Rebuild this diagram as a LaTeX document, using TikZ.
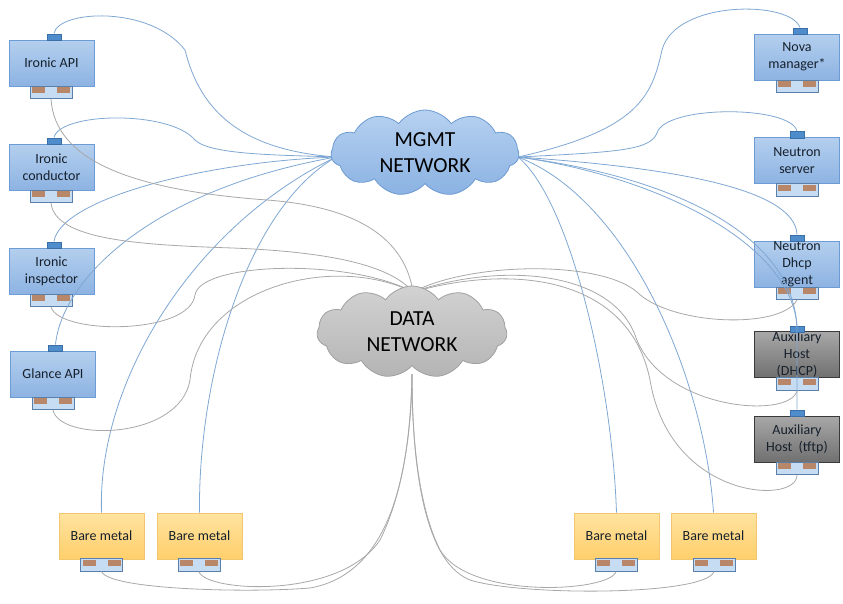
\documentclass[tikz,border=0pt]{standalone}
\usepackage{fontspec}
\setmainfont{Carlito}
\usetikzlibrary{shapes.symbols}
\definecolor{boxtop}{HTML}{B4CFEE}
\definecolor{boxbot}{HTML}{8DB3E2}
\definecolor{boxdraw}{HTML}{6D9BD3}
\definecolor{bmtop}{HTML}{FFE3A0}
\definecolor{bmbot}{HTML}{FFCF6B}
\definecolor{bmdraw}{HTML}{F2C66E}
\definecolor{auxtop}{HTML}{A8A8A8}
\definecolor{auxbot}{HTML}{707070}
\definecolor{auxdraw}{HTML}{3A3A3A}
\definecolor{tabfill}{HTML}{4F8CCB}
\definecolor{tabdraw}{HTML}{3A6FA8}
\definecolor{portfill}{HTML}{C5DCF2}
\definecolor{portdraw}{HTML}{5A7FA8}
\definecolor{brownc}{HTML}{B8876A}
\definecolor{mline}{HTML}{7FA7D3}
\definecolor{dline}{HTML}{A8A8A8}
\definecolor{txt}{HTML}{16202C}
\definecolor{mgtop}{HTML}{B7D1F0}
\definecolor{mgbot}{HTML}{8AB2E2}
\definecolor{mgdraw}{HTML}{6C9AD2}
\definecolor{datop}{HTML}{D2D2D2}
\definecolor{dabot}{HTML}{B4B4B4}
\definecolor{dadraw}{HTML}{A0A0A0}
\pgfdeclarelayer{front}
\pgfsetlayers{main,front}
\tikzset{
  basebox/.style={minimum width=85pt, minimum height=46pt, inner sep=0pt, align=center,
    font=\fontsize{14}{17}\selectfont, text=txt, line width=0.8pt},
  bluebox/.style={basebox, draw=boxdraw, top color=boxtop, bottom color=boxbot},
  auxbox/.style={basebox, draw=auxdraw, top color=auxtop, bottom color=auxbot},
  bmbox/.style={basebox, draw=bmdraw, top color=bmtop, bottom color=bmbot},
  tabn/.style={draw=tabdraw, fill=tabfill, minimum width=14pt, minimum height=6.5pt, inner sep=0pt, line width=0.5pt},
  portn/.style={draw=portdraw, fill=portfill, minimum width=42pt, minimum height=12.5pt, inner sep=0pt, line width=0.7pt,
    path picture={
      \fill[brownc] ([xshift=2pt,yshift=-0.8pt]path picture bounding box.north west) rectangle ++(13pt,-6pt);
      \fill[brownc] ([xshift=-2pt,yshift=-0.8pt]path picture bounding box.north east) rectangle ++(-13pt,-6pt);}},
  mwire/.style={draw=mline, line width=0.8pt},
  dwire/.style={draw=dline, line width=0.8pt},
  cloudn/.style={cloud, cloud puffs=11, cloud puff arc=110, aspect=2.2, inner sep=0pt, align=center,
    font=\fontsize{21.5}{26}\selectfont, text=black, line width=0.8pt},
}
\begin{document}
\begin{tikzpicture}[x=1pt,y=-1pt]
\useasboundingbox (0,0) rectangle (843,603);
% left column
\node[bluebox] (api) at (51.5,63) {Ironic API};
\node[tabn] (apiT) at (54,37) {};
\node[portn] (apiP) at (51,92.5) {};
\node[bluebox] (cond) at (51.5,167) {Ironic\\conductor};
\node[tabn] (condT) at (54,141) {};
\node[portn] (condP) at (51,196.5) {};
\node[bluebox] (insp) at (51.5,271) {Ironic\\inspector};
\node[tabn] (inspT) at (54,245) {};
\node[portn] (inspP) at (51,300.5) {};
\node[bluebox] (glance) at (53,374) {Glance API};
\node[tabn] (glanceT) at (55.5,348) {};
\node[portn] (glanceP) at (53,403.5) {};
% right column
\node[bluebox] (nova) at (797,57) {Nova\\manager*};
\node[tabn] (novaT) at (800,31) {};
\node[portn] (novaP) at (797,86.5) {};
\node[bluebox] (neus) at (797,160.5) {Neutron\\server};
\node[tabn] (neusT) at (797,134.5) {};
\node[portn] (neusP) at (797,190) {};
\node[bluebox] (dhcp) at (797,264) {Neutron\\Dhcp\\agent};
\node[tabn] (dhcpT) at (797,238) {};
\node[portn] (dhcpP) at (797,293.5) {};
\node[auxbox] (auxd) at (797,354.5) {Auxiliary\\Host\\(DHCP)};
\node[tabn] (auxdT) at (797,329) {};
\node[portn] (auxdP) at (797,384) {};
\node[auxbox] (auxt) at (797,439) {Auxiliary\\Host\ \ (tftp)};
\node[tabn] (auxtT) at (797,413) {};
\node[portn] (auxtP) at (797,468.5) {};
% bare metal
\node[bmbox] (bm1) at (101.5,536) {Bare metal};
\node[portn] (bm1P) at (101.5,565) {};
\node[bmbox] (bm2) at (199.5,536) {Bare metal};
\node[portn] (bm2P) at (199,565) {};
\node[bmbox] (bm3) at (616.5,536) {Bare metal};
\node[portn] (bm3P) at (616,565) {};
\node[bmbox] (bm4) at (713.5,536) {Bare metal};
\node[portn] (bm4P) at (714,565) {};
% clouds
\begin{pgfonlayer}{front}
\node[cloudn, draw=mgdraw, top color=mgtop, bottom color=mgbot, minimum width=188pt, minimum height=86pt] (mg) at (425,153) {MGMT\\NETWORK};
\node[cloudn, draw=dadraw, top color=datop, bottom color=dabot, minimum width=190pt, minimum height=92pt] (da) at (412,332) {DATA\\NETWORK};
\end{pgfonlayer}
\coordinate (mL) at (336,157);
\coordinate (mR) at (518,157);
\coordinate (dT) at (413,292);
\coordinate (dB) at (412,374);
% MGMT wires, left
\draw[mwire] (apiT.north) .. controls (58,10) and (150,5) .. (185,50) .. controls (200,110) and (240,150) .. (mL);
\draw[mwire] (condT.north) .. controls (60,112) and (170,110) .. (195,140) .. controls (210,155) and (280,155) .. (mL);
\draw[mwire] (inspT.north) .. controls (60,200) and (200,162) .. (mL);
\draw[mwire] (glanceT.north) .. controls (62,280) and (150,190) .. (mL);
\draw[mwire] (bm1.north) .. controls (97,380) and (195,225) .. (mL);
\draw[mwire] (bm2.north) .. controls (198,380) and (245,210) .. (mL);
% MGMT wires, right
\draw[mwire] (mR) .. controls (640,130) and (652,95) .. (662,50) .. controls (675,0) and (790,0) .. (novaT.north);
\draw[mwire] (mR) .. controls (620,152) and (650,150) .. (657,133) .. controls (665,105) and (790,105) .. (neusT.north);
\draw[mwire] (mR) .. controls (680,168) and (795,190) .. (dhcpT.north);
\draw[mwire] (mR) .. controls (650,175) and (790,240) .. (auxdT.north);
\draw[mwire] (mR) .. controls (660,175) and (797,230) .. (797,332) -- (auxtT.north);
\draw[mwire] (mR) .. controls (570,200) and (612,380) .. (bm3.north);
\draw[mwire] (mR) .. controls (630,200) and (705,380) .. (bm4.north);
% DATA wires, top left
\draw[dwire] (apiP.south) .. controls (55,160) and (130,190) .. (267,200) .. controls (360,207) and (405,240) .. (dT);
\draw[dwire] (condP.south) .. controls (55,240) and (140,245) .. (233,248) .. controls (330,252) and (390,265) .. (dT);
\draw[dwire] (inspP.south) .. controls (60,335) and (190,335) .. (195,295) .. controls (200,262) and (350,258) .. (dT);
\draw[dwire] (glanceP.south) .. controls (60,442) and (180,440) .. (190,380) .. controls (198,290) and (330,252) .. (dT);
% DATA wires, top right
\draw[dwire] (dT) .. controls (470,262) and (600,260) .. (637,292) .. controls (670,325) and (780,330) .. (dhcpP.south);
\draw[dwire] (dT) .. controls (500,262) and (610,270) .. (635,335) .. controls (660,410) and (790,420) .. (auxdP.south);
\draw[dwire] (dT) .. controls (520,262) and (630,280) .. (650,380) .. controls (670,500) and (797,505) .. (auxtP.south);
% DATA wires, bottom
\draw[dwire] (bm1P.south) .. controls (110,590) and (250,593) .. (310,588) .. controls (400,572) and (410,450) .. (dB);
\draw[dwire] (bm2P.south) .. controls (205,592) and (340,600) .. (380,540) .. controls (405,490) and (412,420) .. (dB);
\draw[dwire] (bm3P.south) .. controls (610,592) and (470,600) .. (440,550) .. controls (415,500) and (412,420) .. (dB);
\draw[dwire] (bm4P.south) .. controls (705,596) and (520,596) .. (470,580) .. controls (420,560) and (412,450) .. (dB);
\end{tikzpicture}
\end{document}
